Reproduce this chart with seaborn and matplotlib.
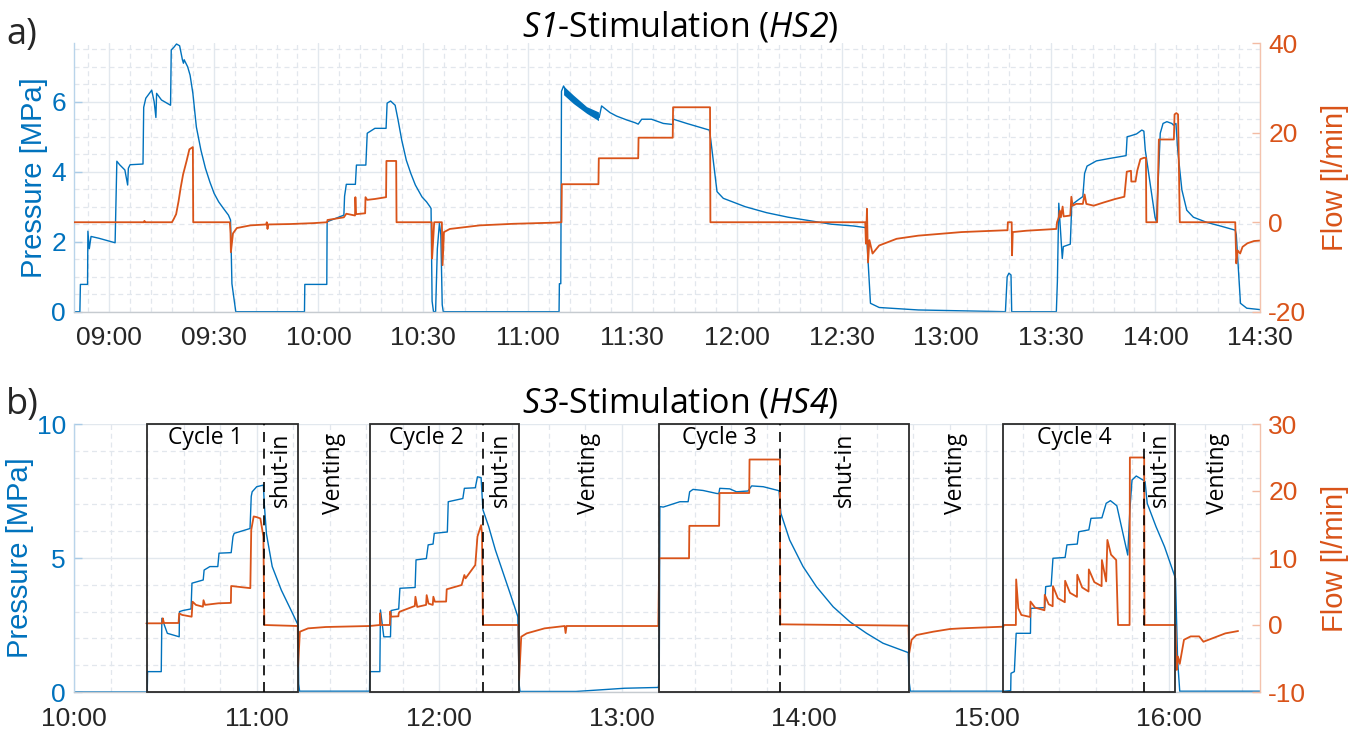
import numpy as np
import pandas as pd
import matplotlib
matplotlib.use("Agg")
import matplotlib.pyplot as plt
import matplotlib.dates as mdates
import matplotlib.transforms as mtransforms
from matplotlib.ticker import MultipleLocator
from matplotlib.patches import Rectangle
import seaborn as sns

# ---------------------------------------------------------------------------
# Panel a: S1 stimulation (HS2); times are minutes after 08:50
# ---------------------------------------------------------------------------
a_start = "2000-01-01 08:50"
a_end_min = 340

a_p_min = [0, 1.6, 1.75, 3.8, 3.9, 4.3, 4.8, 7, 11.7, 12.2, 13.0, 14.5, 15.3, 15.5, 16, 19.7,
           19.9, 20.5, 22.2, 22.9, 23.4, 23.6, 25, 27.6, 27.8, 28.5, 29.3, 30.2, 31.0, 31.3,
           31.5, 32.5, 33.2, 34.0, 35.0, 36.3, 37.6, 38.9, 40.1, 41.4, 42.7, 44.2, 44.8, 45.2,
           46.3, 66.0, 66.1, 72.4, 72.5, 77.3, 77.5, 78, 80.6, 80.9, 83.6, 84.0, 86.2, 89.4,
           89.7, 90.7, 92.0, 92.8, 93.9, 95.2, 96.5, 97.8, 99.7, 101.0, 102.0, 102.3, 102.6,
           103.0, 103.6, 104.1, 104.7, 105.1, 105.5, 105.8, 139.0, 139.1, 139.5, 139.7, 140.3,
           142, 146, 150.3, 150.5, 151.2, 153.6, 155.5, 158.4, 160.8, 161.7, 162.7, 165.5,
           168.9, 171.6, 171.8, 175.6, 179.4, 182.1, 182.4, 184.3, 186.1, 192.4, 198.5, 204.7,
           211.0, 217.1, 223.4, 227.1, 227.3, 228.3, 230.8, 242.0, 267.0, 267.5, 268.0, 268.6,
           268.8, 281.6, 281.9, 282.3, 282.8, 283.3, 283.6, 285.6, 286.0, 286.6, 287.8, 289.2,
           289.7, 290.4, 293.1, 296.9, 301.6, 301.9, 302.7, 304.6, 306.1, 306.7, 307.1, 309.9,
           310.3, 311.4, 312.2, 313.3, 314.7, 315.2, 315.9, 316.4, 317.6, 319.0, 320.9, 324.8,
           328.6, 332.9, 333.2, 334.4, 336.2, 340.0]
a_p_mpa = [0, 0, 0.78, 0.78, 2.3, 1.8, 2.15, 2.1, 1.97, 4.3, 4.2, 4.05, 3.62, 4.1, 4.2, 4.22,
           5.84, 6.1, 6.33, 6.0, 5.55, 6.24, 6.05, 5.9, 7.48, 7.55, 7.65, 7.6, 7.2, 7.1,
           7.2, 7.0, 6.76, 6.24, 5.28, 4.62, 4.1, 3.7, 3.38, 3.14, 2.96, 2.76, 2.62, 0.8,
           0, 0, 0.78, 0.78, 2.57, 2.76, 3.3, 3.64, 3.64, 4.19, 4.19, 5.1, 5.24, 5.24,
           5.96, 6.02, 5.9, 5.5, 4.9, 4.33, 3.95, 3.62, 3.28, 3.14, 3.0, 2.95, 0.3,
           0, 0, 1.8, 2.53, 2.2, 0.2, 0, 0, 0.8, 0.8, 6.3, 6.45,
           6.1, 5.8, 5.55, 5.55, 5.88, 5.69, 5.59, 5.48, 5.4, 5.36, 5.5, 5.5,
           5.38, 5.35, 5.5, 5.38, 5.27, 5.19, 5.0, 3.43, 3.24, 3.0, 2.83, 2.7,
           2.6, 2.5, 2.45, 2.4, 2.0, 0.24, 0.12, 0.05, 0.0, 1.0, 1.1, 1.05,
           0, 0, 0.86, 3.1, 2.33, 1.52, 1.86, 1.93, 3.0, 3.1, 3.19, 3.29,
           3.95, 4.16, 4.31, 4.38, 4.46, 5.0, 5.02, 5.08, 5.19, 5.16, 4.62, 2.7,
           2.57, 5.1, 5.38, 5.43, 5.38, 5.33, 5.38, 4.62, 3.48, 2.9, 2.7, 2.55,
           2.45, 2.33, 2.2, 0.24, 0.1, 0.06]

# pressure oscillation band right after the 11:09 restart
a_band_min = [140.3, 143.1, 146.9, 150.3]
a_band_hi = [6.45, 6.19, 5.86, 5.71]
a_band_lo = [6.2, 5.95, 5.67, 5.46]

a_q_min = [0, 20, 20.1, 20.4, 28.0, 28.5, 29.2, 29.9, 30.5, 31.2, 32.2, 33.0, 34.0, 34.1, 44.6,
           44.8, 44.9, 45.5, 46.6, 50.5, 55.0, 55.2, 55.4, 55.6, 62.0, 68.6, 72.5, 72.6, 77.3,
           78.0, 80.5, 80.6, 80.8, 83.4, 83.5, 84.0, 86.2, 89.4, 89.5, 92.3, 92.4, 102.5,
           102.6, 102.9, 103.2, 105.4, 105.6, 106.0, 107.7, 116.3, 125.9, 137.4, 139.7, 139.8,
           150.3, 150.4, 161.7, 161.8, 171.6, 171.7, 182.3, 182.4, 226.8, 227.0, 227.3, 227.6,
           228.0, 228.9, 230.8, 235.8, 242.0, 248.2, 254.4, 266.9, 267.6, 267.7, 268.8, 268.9,
           269.1, 273.0, 281.6, 281.8, 282.3, 282.6, 282.9, 283.4, 283.7, 285.6, 285.9, 286.3,
           287.3, 289.2, 289.7, 290.2, 292.3, 295.1, 298.5, 301.1, 301.8, 303.0, 303.1, 304.3,
           304.8, 305.7, 306.7, 307.3, 307.4, 310.5, 311.0, 315.3, 315.5, 316.0, 316.5, 317.0,
           332.9, 333.2, 333.6, 334.3, 335.0, 336.4, 338.3, 340.0]
a_q_lpm = [0, 0, 0.3, 0, 0, 0.7, 1.8, 4.7, 7.7, 10.7, 13.7, 16.3, 16.8, 0, 0,
           -2.5, -6.7, -2.5, -1.3, -0.7, -0.5, 0, -1.5, -0.5, -0.4, -0.2, 0.0, 0.5, 1.1,
           1.9, 1.5, 5.6, 1.8, 2.0, 5.6, 5.0, 5.2, 5.6, 13.7, 13.7, 0, 0,
           -8.1, -4.1, 0, 0, -9.6, -2.2, -1.5, -0.7, -0.35, -0.1, 0, 8.5,
           8.5, 14.3, 14.3, 18.9, 18.9, 25.7, 25.7, 0, 0, -4.8, 3.0, -9.0,
           -4.0, -7.0, -5.2, -3.7, -3.0, -2.6, -2.2, -1.8, -1.8, 0, 0, -7.4,
           -2.2, -1.9, -1.5, 0, 1.1, 2.6, 1.1, 3.5, 1.3, 1.5, 5.7, 3.7,
           4.1, 4.1, 6.2, 4.1, 3.7, 4.4, 5.2, 5.7, 11.3, 11.5, 9.1, 9.1,
           11.5, 14.1, 14.4, 14.4, 0, 0, 18.5, 18.5, 24.1, 24.4, 24.1, 0,
           0, -9.2, -6.3, -7.0, -5.5, -4.7, -4.2, -4.1]

# ---------------------------------------------------------------------------
# Panel b: S3 stimulation (HS4); times are minutes after 10:00
# ---------------------------------------------------------------------------
b_start = "2000-01-01 10:00"
b_end_min = 390

b_p_min = [0, 24.0, 24.1, 28.6, 28.8, 29.3, 30.6, 34.5, 34.6, 35.7, 38.4, 38.7, 42.4, 42.7,
           44.6, 47.2, 47.6, 51.6, 52.2, 52.6, 57.8, 58.2, 58.5, 60.0, 62.2, 62.5, 63.2,
           65.1, 68.1, 71.0, 73.6, 73.8, 74.1, 97.1, 97.2, 100.5, 100.7, 101.8, 104.0, 104.2,
           106.7, 107.1, 112.1, 112.4, 115.8, 116.4, 118.0, 118.4, 122.7, 123.0, 127.8,
           128.3, 131.9, 132.6, 133.8, 134.4, 136.3, 138.5, 141.5, 143.7, 145.9, 146.3,
           146.6, 165.0, 181.0, 192.1, 192.4, 192.6, 193.7, 195.9, 199.2, 201.9, 202.4,
           203.5, 206.8, 211.2, 212.0, 212.3, 215.6, 217.8, 221.6, 222.8, 226.6, 231.8,
           232.4, 235.3, 239.7, 244.1, 249.6, 255.1, 260.6, 266.0, 271.5, 274.3, 274.6,
           275.0, 305.7, 308.0, 308.1, 309.2, 309.8, 314.5, 314.6, 319.2, 319.5, 321.3,
           321.9, 325.9, 326.5, 329.9, 330.4, 333.7, 334.4, 338.0, 339.4, 340.8, 342.9,
           346.5, 347.2, 347.9, 349.3, 351.5, 352.2, 352.9, 355.8, 358.6, 362.2, 362.9,
           363.6, 390]
b_p_mpa = [0, 0, 0.76, 0.76, 2.75, 2.6, 2.19, 2.06, 3.0, 3.04, 3.1, 4.06, 4.18, 4.55,
           4.68, 4.68, 5.18, 5.2, 5.8, 5.92, 6.1, 7.3, 7.47, 7.66, 7.72, 7.0, 5.9,
           4.68, 3.8, 3.12, 2.5, 0.3, 0.03, 0.03, 0.76, 0.76, 3.06, 2.06, 2.06, 3.04,
           3.1, 3.87, 3.9, 4.93, 4.98, 5.49, 5.52, 5.92, 5.97, 7.1, 7.22,
           7.6, 7.62, 8.03, 8.0, 6.8, 6.17, 5.3, 4.3, 3.56, 2.81, 0.3,
           0.02, 0.02, 0.14, 0.17, 0.5, 6.92, 6.9, 6.98, 7.1, 7.1, 7.47,
           7.56, 7.52, 7.41, 7.4, 7.6, 7.58, 7.47, 7.5, 7.69, 7.66, 7.51,
           6.67, 5.67, 4.68, 3.93, 3.18, 2.62, 2.19, 1.82, 1.59, 1.47, 0.38,
           0.03, 0.03, 0.05, 0.7, 0.76, 2.19, 2.19, 3.12, 3.15, 3.93, 3.96,
           4.99, 5.02, 5.49, 5.52, 5.98, 6.05, 6.48, 6.5, 7.04, 7.14, 6.95,
           5.11, 6.8, 7.91, 8.06, 7.91, 7.85, 7.04, 6.17, 5.42, 4.24, 1.19,
           0.03, 0.03]

b_q_min = [23.7, 28.9, 29.1, 29.5, 34.3, 34.5, 35.5, 38.6, 38.9, 40.0, 42.3, 42.5, 43.0,
           47.4, 51.5, 51.6, 57.9, 58.2, 59.0, 60.0, 61.2, 62.2, 62.5, 73.5, 73.6, 74.2,
           76.9, 82.7, 97.1, 100.5, 100.6, 100.8, 103.8, 103.9, 104.2, 106.6, 106.7, 107.0,
           112.0, 112.2, 112.8, 115.7, 115.9, 116.5, 117.9, 118.1, 118.6, 122.3, 122.5,
           127.4, 128.3, 128.7, 131.9, 132.6, 133.8, 134.1, 134.4, 146.1, 146.3, 147.0,
           148.8, 154.7, 161.3, 161.6, 161.9, 192.1, 192.4, 202.2, 202.3, 212.1, 212.2,
           222.0, 222.1, 232.1, 232.2, 274.4, 274.6, 275.4, 277.0, 282.5, 288.0, 291.7,
           305.6, 305.7, 309.7, 309.8, 310.5, 311.5, 314.4, 314.5, 316.0, 319.1, 319.2,
           320.5, 321.8, 321.9, 323.5, 325.8, 325.9, 327.5, 329.8, 329.9, 331.5, 333.6,
           333.7, 335.5, 337.9, 338.0, 339.4, 339.8, 341.0, 342.7, 343.3, 347.1, 347.2,
           351.9, 352.0, 362.2, 362.6, 363.0, 363.6, 365.0, 367.2, 370.0, 371.4, 374.3,
           378.6, 382.8]
b_q_lpm = [0.25, 0.25, 1.0, 0.3, 0.3, 1.73, 1.5, 1.24, 3.48, 3.0, 2.73, 3.7, 3.0,
           3.24, 3.3, 5.82, 5.5, 14.2, 16.2, 16.1, 15.9, 13.2, 0, -0.15, -6.2, -1.0,
           -0.5, -0.3, -0.15, 0, 1.75, 0, 0, 2.0, 1.24, 1.3, 1.75, 1.98,
           2.84, 4.22, 2.7, 3.0, 4.46, 3.2, 3.0, 4.22, 3.48, 3.5, 5.33,
           5.97, 7.46, 6.97, 8.96, 13.2, 14.9, 13.7, 0, 0, -8.2, -1.75,
           -1.25, -0.5, -0.15, -1.2, -0.15, -0.15, 9.96, 9.96, 14.8, 14.8, 19.7,
           19.7, 24.7, 24.7, 0.1, -0.1, -4.2, -2.2, -1.5, -1.0, -0.6, -0.5,
           -0.25, 0, 0, 6.8, 2.5, 1.5, 1.2, 3.5, 2.6, 2.2, 4.5,
           3.1, 2.8, 5.8, 4.0, 3.4, 6.6, 4.8, 4.2, 7.5, 5.6, 5.0,
           8.3, 6.4, 5.8, 9.7, 6.5, 12.7, 10.5, 9.7, 0, 0, 25.0,
           25.0, 0, 0, -6.7, -4.7, -5.8, -2.2, -1.7, -1.7, -2.5, -2.0,
           -1.25, -0.9]

# injection cycles: start, shut-in, end of shut-in (minutes after 10:00)
cycle_names = ["Cycle 1", "Cycle 2", "Cycle 3", "Cycle 4"]
cycle_start = [24.0, 97.1, 192.4, 305.6]
cycle_shut_in = [62.5, 134.4, 232.2, 352.0]
cycle_end = [73.6, 146.2, 274.6, 362.1]

BLUE = "#0072BD"
ORANGE = "#D95319"

sns.set_theme(style="white")
plt.rcParams["font.family"] = ["Liberation Sans", "DejaVu Sans"]
plt.rcParams["mathtext.fontset"] = "custom"
plt.rcParams["mathtext.rm"] = "Open Sans"
plt.rcParams["mathtext.sf"] = "Open Sans:italic"
plt.rcParams["axes.unicode_minus"] = False

W, H = 1358, 731
fig = plt.figure(figsize=(W / 100, H / 100), dpi=100)


def to_time(start, minutes):
    return pd.Timestamp(start) + pd.to_timedelta(np.asarray(minutes, dtype=float), unit="min")


def line(ax, t, v, color, lw):
    sns.lineplot(x=t, y=v, ax=ax, color=color, linewidth=lw,
                 estimator=None, sort=False, legend=False)


def style(ax, ax2, start, end_min, major, minor, ylim_l, yticks_l, yminor, ylim_r, yticks_r):
    ax.set_xlim(to_time(start, [0])[0], to_time(start, [end_min])[0])
    ax.set_ylim(*ylim_l)
    ax2.set_ylim(*ylim_r)
    ax.set_yticks(yticks_l)
    ax2.set_yticks(yticks_r)
    ax.yaxis.set_minor_locator(MultipleLocator(yminor))
    ax.xaxis.set_major_locator(major)
    ax.xaxis.set_minor_locator(minor)
    ax.xaxis.set_major_formatter(mdates.DateFormatter("%H:%M"))
    ax.set_axisbelow(True)
    ax.grid(which="major", color="#e2e8ee", lw=1.0, ls="-")
    ax.grid(which="minor", color="#e2e7ed", lw=0.9, ls=(0, (4, 3)))
    ax.tick_params(axis="x", which="major", direction="in", length=8.5, width=1.1,
                   color="#8a8a8a", labelsize=19, labelcolor="#262626", pad=10.5)
    ax.tick_params(axis="y", which="major", direction="in", length=6, width=1,
                   color="#a9cbe6", labelsize=19, labelcolor=BLUE, pad=6)
    ax.tick_params(which="minor", length=0)
    ax2.tick_params(axis="y", which="major", direction="in", length=6, width=1,
                    color="#f3bba3", labelsize=19, labelcolor=ORANGE, pad=6)
    ax2.tick_params(which="minor", length=0)
    for s in ("top", "right"):
        ax.spines[s].set_visible(False)
    for s in ("top", "left", "bottom"):
        ax2.spines[s].set_visible(False)
    ax.spines["left"].set_color("#b9d4ea")
    ax.spines["bottom"].set_color("#c6cbd0")
    ax2.spines["right"].set_color("#f4c3ad")
    for sp in list(ax.spines.values()) + list(ax2.spines.values()):
        sp.set_linewidth(1.0)
    ax.set_xlabel("")
    ax.set_ylabel("Pressure [MPa]", color=BLUE, fontsize=21, labelpad=2)
    ax2.set_ylabel("Flow [l/min]", color=ORANGE, fontsize=21, labelpad=10.5)


left = 74.3 / W
width = (1260 - 74.3) / W

# ---------------------------- panel a ----------------------------------
axa = fig.add_axes([left, 1 - 311.7 / H, width, (311.7 - 43.3) / H])
axa2 = axa.twinx()
line(axa, to_time(a_start, a_p_min), a_p_mpa, BLUE, 1.0)
axa.fill_between(to_time(a_start, a_band_min), a_band_lo, a_band_hi, color=BLUE, lw=0)
line(axa2, to_time(a_start, a_q_min), a_q_lpm, ORANGE, 1.3)
style(axa, axa2, a_start, a_end_min,
      mdates.MinuteLocator(byminute=[0, 30]), mdates.MinuteLocator(byminute=range(0, 60, 6)),
      (0, 7.67), [0, 2, 4, 6], 0.5, (-20, 40), [-20, 0, 20, 40])

# ---------------------------- panel b ----------------------------------
axb = fig.add_axes([left, 1 - 692 / H, width, (692 - 424) / H])
axb2 = axb.twinx()
line(axb, to_time(b_start, b_p_min), b_p_mpa, BLUE, 1.0)
line(axb2, to_time(b_start, b_q_min), b_q_lpm, ORANGE, 1.3)
style(axb, axb2, b_start, b_end_min,
      mdates.HourLocator(), mdates.MinuteLocator(byminute=range(0, 60, 12)),
      (0, 10), [0, 5, 10], 1, (-10, 30), [-10, 0, 10, 20, 30])

# cycle boxes, shut-in markers and phase labels
trans = mtransforms.blended_transform_factory(axb2.transData, axb2.transAxes)
cs = mdates.date2num(to_time(b_start, cycle_start))
csi = mdates.date2num(to_time(b_start, cycle_shut_in))
ce = mdates.date2num(to_time(b_start, cycle_end))
nxt = list(cs[1:]) + [mdates.date2num(to_time(b_start, [b_end_min])[0])]
txt_kw = dict(family="Open Sans", fontsize=16.5, color="black", transform=trans)
for name, s, si, e, n in zip(cycle_names, cs, csi, ce, nxt):
    axb2.add_patch(Rectangle((s, 0), e - s, 1, transform=trans, fill=False,
                             edgecolor="#2b2b2b", lw=1.3, clip_on=False, zorder=5))
    axb2.plot([si, si], [0, 1], transform=trans, color="black", lw=1.2,
              ls=(0, (6, 4)), zorder=5, clip_on=False)
    axb2.text((s + si) / 2, 0.948, name, ha="center", va="center", **txt_kw)
    axb2.text((si + e) / 2, 0.968, "shut-in", rotation=90, ha="center", va="top", **txt_kw)
    axb2.text((e + n) / 2, 0.968, "Venting", rotation=90, ha="center", va="top", **txt_kw)

# titles and panel letters
title_kw = dict(family="Open Sans", fontsize=24.5, color="black", ha="center", va="baseline")
fig.text(680 / W, 1 - 37 / H, r"$\mathsf{S1}$-Stimulation ($\mathsf{HS2}$)", **title_kw)
fig.text(680 / W, 1 - 413 / H, r"$\mathsf{S3}$-Stimulation ($\mathsf{HS4}$)", **title_kw)
fig.text(6 / W, 1 - 44 / H, "a)", family="Open Sans", fontsize=26, va="baseline")
fig.text(6 / W, 1 - 414 / H, "b)", family="Open Sans", fontsize=26, va="baseline")

fig.savefig("out.png", dpi=100, facecolor="white")
